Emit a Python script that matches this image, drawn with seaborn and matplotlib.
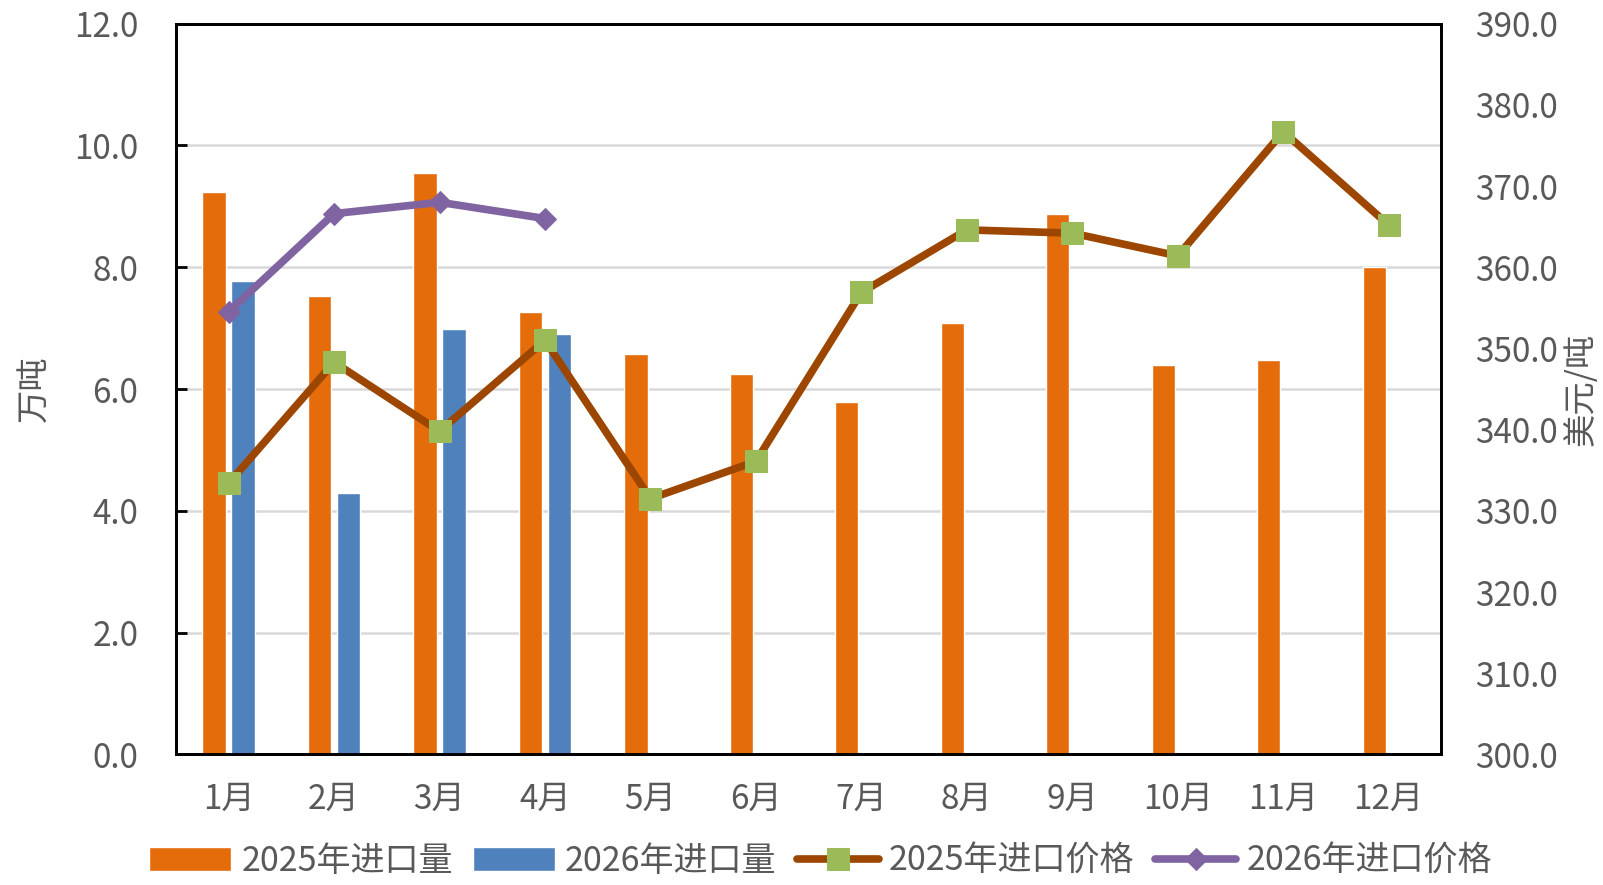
import numpy as np
import pandas as pd
import matplotlib
matplotlib.use('Agg')
import matplotlib.pyplot as plt
import seaborn as sns

months = ['1月', '2月', '3月', '4月', '5月', '6月', '7月', '8月', '9月', '10月', '11月', '12月']
vol_2025 = [9.23, 7.52, 9.55, 7.27, 6.58, 6.24, 5.79, 7.08, 8.88, 6.39, 6.48, 8.00]
vol_2026 = [7.77, 4.30, 6.98, 6.90, np.nan, np.nan, np.nan, np.nan, np.nan, np.nan, np.nan, np.nan]
price_2025 = [333.4, 348.3, 339.8, 351.0, 331.5, 336.1, 356.9, 364.6, 364.2, 361.4, 376.7, 365.2]
price_2026 = [354.5, 366.6, 368.0, 366.0]

txt_color = '#595959'
fs = 24

sns.set_theme(style='white')
plt.rcParams['font.family'] = ['Noto Sans CJK SC', 'DejaVu Sans']

fig = plt.figure(figsize=(16.03, 8.85), dpi=100)
ax = fig.add_axes([0.1097, 0.1475, 0.7895, 0.8258])

vol_df = pd.DataFrame({
    'month': months * 2,
    'series': ['2025年进口量'] * 12 + ['2026年进口量'] * 12,
    'vol': vol_2025 + vol_2026,
})
sns.barplot(data=vol_df, x='month', y='vol', hue='series', order=months,
            palette=['#E46C0A', '#4F81BD'], width=0.55, gap=0.2,
            saturation=1, ax=ax)
bar_handles, bar_labels = ax.get_legend_handles_labels()
ax.get_legend().remove()

ax.set_xlim(-0.5, 11.5)
ax.set_ylim(0, 12)
ax.set_yticks(np.arange(0, 12.1, 2))
ax.set_yticklabels([f'{v:.1f}' for v in np.arange(0, 12.1, 2)])
ax.set_xlabel('')
ax.set_ylabel('')
ax.set_axisbelow(True)
ax.yaxis.grid(True, color='#D9D9D9', lw=1.8)
ax.set_xticks(np.arange(-0.5, 12, 1), minor=True)
ax.tick_params(axis='x', which='major', length=0, pad=20, labelsize=fs, labelcolor=txt_color)
ax.tick_params(axis='x', which='minor', direction='in', length=8, width=2, color='black')
ax.tick_params(axis='y', direction='in', length=8, width=2, color='black', left=True,
               pad=27, labelsize=fs, labelcolor=txt_color)
ax.text(-0.111, 0.5, '万吨', transform=ax.transAxes, rotation=90, ha='center', va='center',
        fontsize=fs, color=txt_color)

ax2 = ax.twinx()
sns.lineplot(x=np.arange(len(price_2025)), y=price_2025, ax=ax2, color='#9C4600', lw=5.5,
             marker='s', markersize=16, markerfacecolor='#9BBB59', markeredgecolor='#9BBB59',
             label='2025年进口价格')
sns.lineplot(x=np.arange(len(price_2026)), y=price_2026, ax=ax2, color='#8064A2', lw=5.5,
             marker='D', markersize=11, markerfacecolor='#8064A2', markeredgecolor='#8064A2',
             label='2026年进口价格')
line_handles, line_labels = ax2.get_legend_handles_labels()
ax2.get_legend().remove()
ax2.set_xlim(-0.5, 11.5)
ax2.set_ylim(300, 390)
ax2.set_yticks(np.arange(300, 391, 10))
ax2.set_yticklabels([f'{v:.1f}' for v in np.arange(300, 391, 10)])
ax2.tick_params(axis='y', length=0, pad=24, labelsize=fs, labelcolor=txt_color)
ax2.text(1.11, 0.5, '美元/吨', transform=ax2.transAxes, rotation=90, ha='center', va='center',
         fontsize=fs, color=txt_color)

for a in (ax, ax2):
    for s in a.spines.values():
        s.set_visible(True)
        s.set_color('black')
        s.set_linewidth(2)

fig.legend(bar_handles + line_handles, bar_labels + line_labels, loc='center',
           bbox_to_anchor=(0.512, 0.027), ncol=4, frameon=False, fontsize=fs + 0.5,
           handlelength=2.4, handletextpad=0.3, columnspacing=0.6, labelcolor=txt_color)

fig.savefig('out.png', dpi=100)
